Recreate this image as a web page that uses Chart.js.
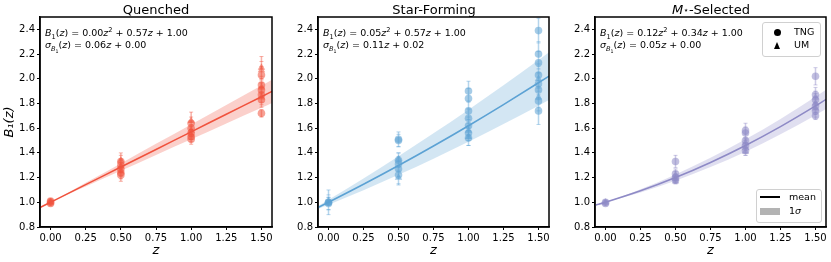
<!DOCTYPE html>
<html><head><meta charset="utf-8">
<script src="https://cdn.jsdelivr.net/npm/chart.js@4/dist/chart.umd.min.js"></script>
<style>
body{margin:0;background:#fff;width:831px;height:262px;overflow:hidden;position:relative;font-family:"DejaVu Sans",sans-serif;color:#000;}
canvas{position:absolute;top:0;}
.ttl{position:absolute;top:2px;font-size:13px;line-height:16px;text-align:center;white-space:nowrap;}
.ann{position:absolute;font-size:9.5px;line-height:12px;white-space:nowrap;}
sub,sup{font-size:70%;line-height:0;}
.lg{position:absolute;border:1px solid #d0d0d0;border-radius:3px;background:rgba(255,255,255,0.85);}
.lt{position:absolute;font-size:9.5px;line-height:12px;white-space:nowrap;}
</style></head>
<body>
<canvas id="c1" width="278" height="262" style="left:0px"></canvas>
<canvas id="c2" width="278" height="262" style="left:278px"></canvas>
<canvas id="c3" width="276" height="262" style="left:555px"></canvas>

<div class="ttl" style="left:96px;width:120px">Quenched</div>
<div class="ttl" style="left:374px;width:120px">Star-Forming</div>
<div class="ttl" style="left:651px;width:120px"><i>M</i><span style="font-size:9px;position:relative;top:-1px">⋆</span>-Selected</div>

<div class="ann" style="left:45px;top:27px"><i>B</i><sub>1</sub>(<i>z</i>) = 0.00<i>z</i><sup>2</sup> + 0.57<i>z</i> + 1.00</div>
<div class="ann" style="left:45px;top:39px"><i>σ</i><sub><i>B</i><sub>1</sub></sub>(<i>z</i>) = 0.06<i>z</i> + 0.00</div>
<div class="ann" style="left:323px;top:27px"><i>B</i><sub>1</sub>(<i>z</i>) = 0.05<i>z</i><sup>2</sup> + 0.57<i>z</i> + 1.00</div>
<div class="ann" style="left:323px;top:39px"><i>σ</i><sub><i>B</i><sub>1</sub></sub>(<i>z</i>) = 0.11<i>z</i> + 0.02</div>
<div class="ann" style="left:600px;top:27px"><i>B</i><sub>1</sub>(<i>z</i>) = 0.12<i>z</i><sup>2</sup> + 0.34<i>z</i> + 1.00</div>
<div class="ann" style="left:600px;top:39px"><i>σ</i><sub><i>B</i><sub>1</sub></sub>(<i>z</i>) = 0.05<i>z</i> + 0.00</div>

<div class="lg" style="left:762px;top:22px;width:57px;height:33px"></div>
<div style="position:absolute;left:774px;top:29px;width:7px;height:7px;border-radius:50%;background:#000"></div>
<div class="lt" style="left:794px;top:26px">TNG</div>
<div style="position:absolute;left:774px;top:42px;width:0;height:0;border-left:3.5px solid transparent;border-right:3.5px solid transparent;border-bottom:7px solid #000"></div>
<div class="lt" style="left:794px;top:39px">UM</div>

<div class="lg" style="left:756px;top:189px;width:64px;height:32px"></div>
<div style="position:absolute;left:760px;top:196px;width:20px;height:1.5px;background:#000"></div>
<div class="lt" style="left:789px;top:191px">mean</div>
<div style="position:absolute;left:760px;top:208px;width:20px;height:7px;background:#b3b3b3"></div>
<div class="lt" style="left:789px;top:205px">1<i>σ</i></div>

<script>
// ---------- data ----------
const xTicks = [0, 0.25, 0.5, 0.75, 1.0, 1.25, 1.5];
const xTickLabels = ['0.00', '0.25', '0.50', '0.75', '1.00', '1.25', '1.50'];
const yTicks = [0.8, 1.0, 1.2, 1.4, 1.6, 1.8, 2.0, 2.2, 2.4];
const yTickLabels = ['0.8', '1.0', '1.2', '1.4', '1.6', '1.8', '2.0', '2.2', '2.4'];

// fit curves (mean and 1-sigma band) sampled on a z grid
const zGrid = [-0.075, 0, 0.25, 0.5, 0.75, 1.0, 1.25, 1.5, 1.575];
const qMean = [0.957, 1.000, 1.143, 1.285, 1.428, 1.570, 1.713, 1.855, 1.898];
const qLow  = [0.9525, 1.000, 1.128, 1.255, 1.383, 1.510, 1.638, 1.765, 1.8035];
const qHigh = [0.9615, 1.000, 1.158, 1.315, 1.473, 1.630, 1.788, 1.945, 1.9925];
const sfMean = [0.9575, 1.000, 1.1456, 1.2975, 1.4556, 1.620, 1.7906, 1.9675, 2.0218];
const sfLow  = [0.9458, 0.980, 1.0981, 1.2225, 1.3531, 1.490, 1.6331, 1.7825, 1.8286];
const sfHigh = [0.9693, 1.020, 1.1931, 1.3725, 1.5581, 1.750, 1.9481, 2.1525, 2.2151];
const msMean = [0.9752, 1.000, 1.0925, 1.200, 1.3225, 1.460, 1.6125, 1.780, 1.8332];
const msLow  = [0.9714, 1.000, 1.080, 1.175, 1.285, 1.410, 1.550, 1.705, 1.7544];
const msHigh = [0.9789, 1.000, 1.105, 1.225, 1.360, 1.510, 1.675, 1.855, 1.9120];

// Quenched measurements
const qTngZ   = [0, 0, 0, 0.5, 0.5, 0.5, 0.5, 0.5, 1.0, 1.0, 1.0, 1.0, 1.0, 1.5, 1.5, 1.5, 1.5, 1.5, 1.5];
const qTngB   = [1.00, 0.99, 1.01, 1.33, 1.30, 1.27, 1.24, 1.22, 1.64, 1.60, 1.56, 1.53, 1.51, 2.03, 1.95, 1.91, 1.87, 1.83, 1.72];
const qTngErr = [0.02, 0.02, 0.02, 0.05, 0.05, 0.05, 0.05, 0.05, 0.05, 0.05, 0.05, 0.04, 0.04, 0.07, 0.07, 0.06, 0.06, 0.06, 0.03];
const qUmZ    = [0, 0.5, 0.5, 0.5, 1.0, 1.0, 1.0, 1.5, 1.5, 1.5, 1.5];
const qUmB    = [1.00, 1.34, 1.29, 1.25, 1.66, 1.58, 1.55, 2.09, 2.07, 1.93, 1.85];
const qUmErr  = [0.01, 0.06, 0.05, 0.04, 0.07, 0.05, 0.04, 0.09, 0.07, 0.06, 0.06];

// Star-forming measurements
const sfTngZ   = [0, 0, 0, 0.5, 0.5, 0.5, 0.5, 0.5, 0.5, 1.0, 1.0, 1.0, 1.0, 1.0, 1.0, 1.0, 1.5, 1.5, 1.5, 1.5, 1.5, 1.5, 1.5, 1.5];
const sfTngB   = [1.00, 1.00, 0.99, 1.51, 1.50, 1.34, 1.31, 1.27, 1.22, 1.90, 1.84, 1.74, 1.68, 1.62, 1.56, 1.52, 2.39, 2.20, 2.13, 2.03, 1.96, 1.91, 1.82, 1.74];
const sfTngErr = [0.10, 0.06, 0.05, 0.06, 0.05, 0.06, 0.06, 0.06, 0.07, 0.08, 0.08, 0.07, 0.07, 0.07, 0.06, 0.06, 0.10, 0.10, 0.09, 0.09, 0.09, 0.08, 0.08, 0.11];
const sfUmZ    = [0, 0.5, 0.5, 1.0, 1.0, 1.5, 1.5];
const sfUmB    = [1.01, 1.35, 1.20, 1.58, 1.53, 2.00, 1.85];
const sfUmErr  = [0.03, 0.05, 0.06, 0.06, 0.07, 0.08, 0.08];

// Stellar-mass-selected measurements
const msTngZ   = [0, 0, 0.5, 0.5, 0.5, 0.5, 1.0, 1.0, 1.0, 1.0, 1.0, 1.5, 1.5, 1.5, 1.5, 1.5, 1.5];
const msTngB   = [1.00, 0.99, 1.33, 1.23, 1.20, 1.18, 1.58, 1.56, 1.50, 1.46, 1.42, 2.02, 1.87, 1.83, 1.78, 1.74, 1.70];
const msTngErr = [0.02, 0.02, 0.05, 0.04, 0.03, 0.03, 0.06, 0.05, 0.05, 0.04, 0.04, 0.07, 0.06, 0.05, 0.05, 0.05, 0.03];
const msUmZ    = [0, 0.5, 0.5, 0.5, 1.0, 1.0, 1.0, 1.5, 1.5, 1.5];
const msUmB    = [1.00, 1.22, 1.19, 1.17, 1.48, 1.44, 1.41, 1.85, 1.80, 1.76];
const msUmErr  = [0.01, 0.03, 0.03, 0.02, 0.04, 0.04, 0.03, 0.05, 0.05, 0.05];

// ---------- chart building ----------
const FONT = '"DejaVu Sans", sans-serif';
const frame = {
  id: 'frame',
  afterDatasetsDraw(chart) {
    const {ctx, chartArea: a} = chart;
    ctx.save();
    ctx.strokeStyle = '#000';
    ctx.lineWidth = 1.5;
    ctx.strokeRect(a.left, a.top, a.right - a.left, a.bottom - a.top);
    ctx.restore();
  }
};

function pts(xs, ys) { return xs.map((x, i) => ({x: x, y: ys[i]})); }
function errData(zs, bs, es) {
  const out = [];
  zs.forEach((z, i) => {
    out.push({x: z, y: bs[i] - es[i]});
    out.push({x: z, y: bs[i] + es[i]});
    out.push({x: z, y: null});
  });
  return out;
}
function rgba(c, a) { return 'rgba(' + c[0] + ',' + c[1] + ',' + c[2] + ',' + a + ')'; }

function makeChart(id, col, mean, low, high, tz, tb, te, uz, ub, ue, showYTitle, rightPad) {
  const allZ = tz.concat(uz), allB = tb.concat(ub), allE = te.concat(ue);
  new Chart(document.getElementById(id), {
    type: 'scatter',
    data: {
      datasets: [
        {type: 'line', data: pts(zGrid, high), borderWidth: 0, pointRadius: 0, fill: '+1',
         backgroundColor: rgba(col, 0.27), borderColor: 'rgba(0,0,0,0)', cubicInterpolationMode: 'monotone', order: 6},
        {type: 'line', data: pts(zGrid, low), borderWidth: 0, pointRadius: 0, fill: false,
         borderColor: 'rgba(0,0,0,0)', cubicInterpolationMode: 'monotone', order: 7},
        {type: 'line', data: errData(allZ, allB, allE), borderColor: rgba(col, 0.45), borderWidth: 1.5,
         pointRadius: 2, pointStyle: 'line', pointBorderColor: rgba(col, 0.45), pointBorderWidth: 1,
         pointBackgroundColor: 'rgba(0,0,0,0)', fill: false, spanGaps: false, order: 5},
        {data: pts(tz, tb), pointStyle: 'circle', pointRadius: 3.8, borderWidth: 0,
         backgroundColor: rgba(col, 0.55), order: 4},
        {data: pts(uz, ub), pointStyle: 'triangle', pointRadius: 4.3, borderWidth: 0,
         backgroundColor: rgba(col, 0.55), order: 3},
        {type: 'line', data: pts(zGrid, mean), borderColor: rgba(col, 1), borderWidth: 1.6, pointRadius: 0,
         fill: false, cubicInterpolationMode: 'monotone', order: 1}
      ]
    },
    options: {
      responsive: false, animation: false, devicePixelRatio: 1,
      layout: {padding: {left: 0, right: rightPad, top: 17, bottom: 0}},
      plugins: {legend: {display: false}, tooltip: {enabled: false}},
      scales: {
        x: {
          type: 'linear', min: -0.075, max: 1.575,
          afterBuildTicks: s => { s.ticks = xTicks.map(v => ({value: v})); },
          afterFit: s => { s.height = 35; },
          ticks: {callback: (v, i) => xTickLabels[i], color: '#000', font: {family: FONT, size: 10}, padding: 2, maxRotation: 0, autoSkip: false},
          grid: {drawOnChartArea: false, drawTicks: true, tickLength: 3, color: '#000', lineWidth: 1},
          border: {display: true, color: '#000', width: 1.5},
          title: {display: true, text: 'z', color: '#000', font: {family: FONT, size: 13, style: 'italic'}, padding: 4}
        },
        y: {
          type: 'linear', min: 0.8, max: 2.5,
          afterBuildTicks: s => { s.ticks = yTicks.map(v => ({value: v})); },
          afterFit: s => { s.width = 40; },
          ticks: {callback: (v, i) => yTickLabels[i], color: '#000', font: {family: FONT, size: 10}, padding: 2, autoSkip: false},
          grid: {drawOnChartArea: false, drawTicks: true, tickLength: 3, color: '#000', lineWidth: 1},
          border: {display: true, color: '#000', width: 1.5},
          title: {display: showYTitle, text: 'B₁(z)', color: '#000', font: {family: FONT, size: 13, style: 'italic'}, padding: 2}
        }
      }
    },
    plugins: [frame]
  });
}

makeChart('c1', [240, 83, 62], qMean, qLow, qHigh, qTngZ, qTngB, qTngErr, qUmZ, qUmB, qUmErr, true, 6);
makeChart('c2', [92, 162, 212], sfMean, sfLow, sfHigh, sfTngZ, sfTngB, sfTngErr, sfUmZ, sfUmB, sfUmErr, false, 7);
makeChart('c3', [142, 138, 198], msMean, msLow, msHigh, msTngZ, msTngB, msTngErr, msUmZ, msUmB, msUmErr, false, 4);
</script>
</body></html>
